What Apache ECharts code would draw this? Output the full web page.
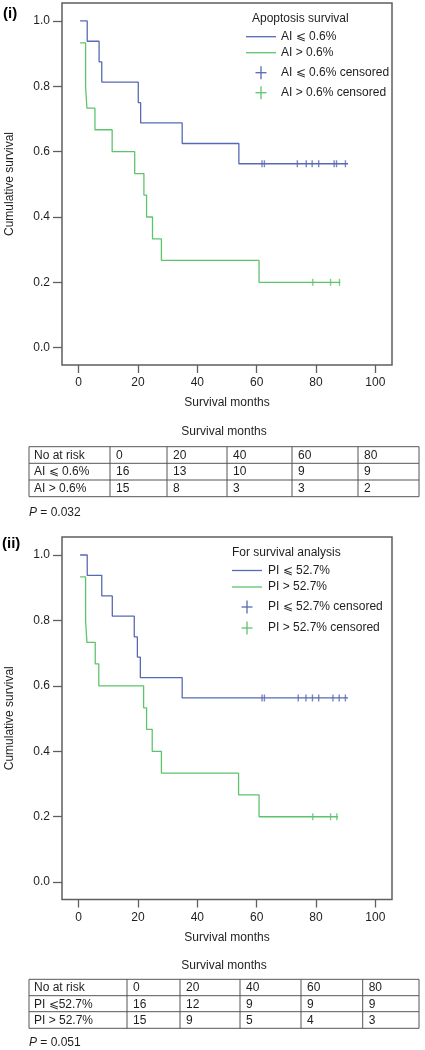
<!DOCTYPE html>
<html><head><meta charset="utf-8">
<script src="https://cdn.jsdelivr.net/npm/echarts@6/dist/echarts.min.js"></script>
<style>html,body{margin:0;padding:0;background:#fff}#c{width:425px;height:1050px}</style>
</head><body><div id="c"></div>
<script>
// ---- axes ----
const xTickValues = [0, 20, 40, 60, 80, 100];
const yTickValues = [0, 0.2, 0.4, 0.6, 0.8, 1.0];

// ---- Panel (i): Apoptosis index ----
const aiLowTimes = [0.5, 2.9, 6.9, 7.8, 20.1, 20.9, 34.9, 54.0, 90.8];
const aiLowSurv  = [1.0, 0.938, 0.875, 0.813, 0.75, 0.688, 0.625, 0.563, 0.563];
const aiLowCensor = [61.8, 62.6, 73.7, 76.7, 78.7, 80.9, 86.1, 86.9, 89.9];
const aiLowCensorSurv = 0.563;
const aiHighTimes = [0.5, 2.35, 2.8, 5.5, 11.3, 18.9, 22.0, 22.9, 24.9, 27.9, 60.8, 88.2];
const aiHighSurv  = [0.933, 0.8, 0.733, 0.667, 0.6, 0.533, 0.467, 0.4, 0.333, 0.267, 0.2, 0.2];
const aiHighCensor = [78.9, 84.9, 87.9];
const aiHighCensorSurv = 0.2;

// ---- Panel (ii): Proliferation index ----
const piLowTimes = [0.5, 2.9, 7.8, 11.35, 18.75, 19.8, 20.8, 34.9, 90.8];
const piLowSurv  = [1.0, 0.938, 0.875, 0.813, 0.75, 0.688, 0.625, 0.563, 0.563];
const piLowCensor = [61.8, 62.6, 74.0, 76.6, 78.8, 80.9, 85.7, 87.8, 89.9];
const piLowCensorSurv = 0.563;
const piHighTimes = [0.5, 2.35, 2.8, 5.6, 6.8, 21.9, 22.9, 24.8, 27.9, 53.9, 60.8, 87.4];
const piHighSurv  = [0.933, 0.8, 0.733, 0.667, 0.6, 0.533, 0.467, 0.4, 0.333, 0.267, 0.2, 0.2];
const piHighCensor = [78.9, 84.9, 87.0];
const piHighCensorSurv = 0.2;

// ---- texts ----
const panelLabels = ['(i)', '(ii)'];
const legendTitles = ['Apoptosis survival', 'For survival analysis'];
const legendItems1 = ['AI \u2A7D 0.6%', 'AI > 0.6%', 'AI \u2A7D 0.6% censored', 'AI > 0.6% censored'];
const legendItems2 = ['PI \u2A7D 52.7%', 'PI > 52.7%', 'PI \u2A7D 52.7% censored', 'PI > 52.7% censored'];
const xName = 'Survival months';
const yName = 'Cumulative survival';

// ---- at-risk tables ----
const riskHeader = ['No at risk', '0', '20', '40', '60', '80'];
const risk1Labels = ['AI \u2A7D 0.6%', 'AI > 0.6%'];
const risk1Low  = [16, 13, 10, 9, 9];
const risk1High = [15, 8, 3, 3, 2];
const risk2Labels = ['PI \u2A7D52.7%', 'PI > 52.7%'];
const risk2Low  = [16, 12, 9, 9, 9];
const risk2High = [15, 9, 5, 4, 3];
const pValues = ['0.032', '0.051'];

// ---- styling ----
const BLUE = '#5869b3';
const GREEN = '#5ec46c';
const FRAME = '#5f5f5f';
const TXT = '#1e1e1e';
const FONT = '"Liberation Sans", Arial, sans-serif';

const zip = (xs, ys) => xs.map((x, i) => [x, ys[i]]);

const grids = [
  { left: 62, top: 3, width: 330, height: 362 },
  { left: 62, top: 537, width: 330, height: 362.5 }
];

function xAxis(gi) {
  return {
    type: 'value', gridIndex: gi, min: -5.6, max: 105.6, position: 'bottom',
    name: xName, nameLocation: 'middle', nameGap: 32,
    nameTextStyle: { color: TXT, fontSize: 12, fontFamily: FONT },
    axisLine: { show: false, onZero: false },
    axisTick: { show: true, length: 8, inside: false, customValues: xTickValues, lineStyle: { color: FRAME, width: 1.3 } },
    axisLabel: { customValues: xTickValues, margin: 12, color: TXT, fontSize: 12, fontFamily: FONT, formatter: v => String(v) },
    splitLine: { show: false }
  };
}
function yAxis(gi) {
  return {
    type: 'value', gridIndex: gi, min: -0.053, max: 1.055, position: 'left',
    name: yName, nameLocation: 'middle', nameGap: 46,
    nameTextStyle: { color: TXT, fontSize: 12, fontFamily: FONT },
    axisLine: { show: false, onZero: false },
    axisTick: { show: true, length: 9, inside: false, customValues: yTickValues, lineStyle: { color: FRAME, width: 1.3 } },
    axisLabel: { customValues: yTickValues, margin: 12, color: TXT, fontSize: 12, fontFamily: FONT, formatter: v => v.toFixed(1) },
    splitLine: { show: false }
  };
}

function curve(name, gi, times, surv, color) {
  return {
    name, type: 'line', xAxisIndex: gi, yAxisIndex: gi, step: 'end',
    data: zip(times, surv), symbol: 'none', animation: false,
    lineStyle: { color, width: 1.3 }
  };
}
function censor(name, gi, times, s, color) {
  return {
    name, type: 'scatter', xAxisIndex: gi, yAxisIndex: gi,
    data: times.map(t => [t, s]), symbol: 'rect', symbolSize: [1.4, 7],
    itemStyle: { color }, animation: false, z: 3
  };
}

const series = [
  curve(legendItems1[0], 0, aiLowTimes, aiLowSurv, BLUE),
  curve(legendItems1[1], 0, aiHighTimes, aiHighSurv, GREEN),
  censor(legendItems1[2], 0, aiLowCensor, aiLowCensorSurv, BLUE),
  censor(legendItems1[3], 0, aiHighCensor, aiHighCensorSurv, GREEN),
  curve(legendItems2[0], 1, piLowTimes, piLowSurv, BLUE),
  curve(legendItems2[1], 1, piHighTimes, piHighSurv, GREEN),
  censor(legendItems2[2], 1, piLowCensor, piLowCensorSurv, BLUE),
  censor(legendItems2[3], 1, piHighCensor, piHighCensorSurv, GREEN)
];

// ---- graphic: legends, tables, labels ----
const graphic = [];
function text(x, y, s, opts) {
  graphic.push({
    type: 'text', x, y, silent: true,
    style: Object.assign({ text: s, fill: TXT, font: '12px ' + FONT, align: 'left', verticalAlign: 'middle' }, opts || {})
  });
}
function line(x1, y1, x2, y2, color, w) {
  graphic.push({ type: 'line', silent: true, shape: { x1, y1, x2, y2 }, style: { stroke: color, lineWidth: w } });
}

const legendLayouts = [
  { titleX: 252, titleY: 19, lx1: 246, lx2: 276, ly: [36.7, 52.7], tx: 281, cx: 261, cy: [72.7, 92.7] },
  { titleX: 232, titleY: 553, lx1: 232, lx2: 262, ly: [570.5, 587], tx: 268, cx: 247, cy: [607, 628] }
];
const legendSets = [legendItems1, legendItems2];
legendLayouts.forEach((L, p) => {
  const items = legendSets[p];
  text(L.titleX, L.titleY, legendTitles[p]);
  const cols = [BLUE, GREEN];
  L.ly.forEach((y, i) => { line(L.lx1, y, L.lx2, y, cols[i], 1.3); text(L.tx, y, items[i]); });
  L.cy.forEach((y, i) => {
    line(L.cx - 5.5, y, L.cx + 5.5, y, cols[i], 1.3);
    line(L.cx, y - 6.5, L.cx, y + 6.5, cols[i], 1.3);
    text(L.tx, y, items[i + 2]);
  });
});

// panel labels
text(3, 14, panelLabels[0], { font: 'bold 15px ' + FONT, fill: '#000' });
text(2, 544, panelLabels[1], { font: 'bold 15px ' + FONT, fill: '#000' });

// tables
const tableLayouts = [
  { titleY: 432, rows: [446.7, 463.3, 480, 496.7], cols: [29, 110, 167, 227, 292, 358, 419], pY: 513 },
  { titleY: 966, rows: [979.3, 995.7, 1011.7, 1028.3], cols: [29, 127, 180, 240, 301, 362.7, 419], pY: 1043 }
];
const tableData = [
  { labels: risk1Labels, low: risk1Low, high: risk1High },
  { labels: risk2Labels, low: risk2Low, high: risk2High }
];
tableLayouts.forEach((T, p) => {
  const D = tableData[p];
  const x0 = T.cols[0], x1 = T.cols[T.cols.length - 1];
  const y0 = T.rows[0], y1 = T.rows[T.rows.length - 1];
  text((x0 + x1) / 2, T.titleY, xName, { align: 'center' });
  T.rows.forEach(y => line(x0, y, x1, y, '#555', 1));
  T.cols.forEach(x => line(x, y0, x, y1, '#555', 1));
  const rowsText = [riskHeader, [D.labels[0]].concat(D.low.map(String)), [D.labels[1]].concat(D.high.map(String))];
  rowsText.forEach((r, ri) => {
    const yc = (T.rows[ri] + T.rows[ri + 1]) / 2 + 0.5;
    r.forEach((s, ci) => text(T.cols[ci] + (ci === 0 ? 5 : 6), yc, s));
  });
  graphic.push({
    type: 'text', x: 29, y: T.pY, silent: true,
    style: {
      text: '{i|P} = ' + pValues[p], fill: TXT, font: '12px ' + FONT, verticalAlign: 'middle',
      rich: { i: { fontStyle: 'italic', fontSize: 12, fontFamily: FONT, fill: TXT } }
    }
  });
});

const chart = echarts.init(document.getElementById('c'), null, { renderer: 'canvas' });
chart.setOption({
  animation: false,
  backgroundColor: '#ffffff',
  textStyle: { fontFamily: FONT },
  grid: grids.map(g => Object.assign({ show: true, borderColor: FRAME, borderWidth: 1.5, backgroundColor: 'transparent', containLabel: false, outerBoundsMode: 'none' }, g)),
  xAxis: [xAxis(0), xAxis(1)],
  yAxis: [yAxis(0), yAxis(1)],
  series,
  graphic
});
</script>
</body></html>
